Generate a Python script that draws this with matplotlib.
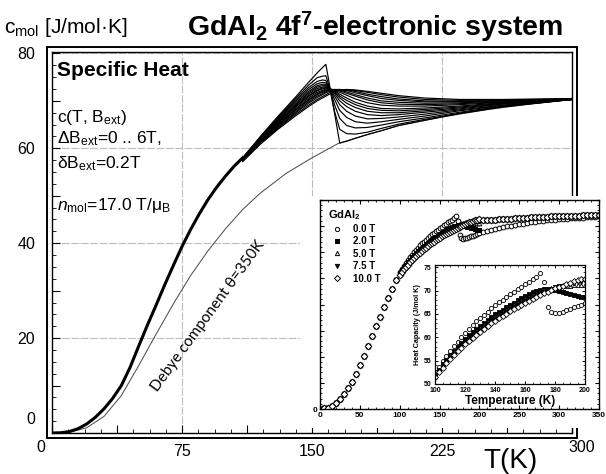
import numpy as np
import matplotlib
matplotlib.use("Agg")
import matplotlib.pyplot as plt
from matplotlib.ticker import MultipleLocator, FuncFormatter
from matplotlib.patches import Rectangle

plt.rcParams['font.family'] = ['Liberation Sans', 'DejaVu Sans']
plt.rcParams['mathtext.fontset'] = 'custom'
plt.rcParams['mathtext.rm'] = 'Liberation Sans'
plt.rcParams['mathtext.it'] = 'Liberation Sans:italic'
plt.rcParams['mathtext.bf'] = 'Liberation Sans:bold'

# ---------- main panel: calculated c(T, B_ext) ----------
T_deb = [0, 10, 20, 30, 40, 50, 60, 70, 80, 90, 100, 110, 120, 135, 150, 165,
         180, 200, 225, 250, 275, 300]
c_deb = [0, 0.15, 1.1, 3.5, 7.9, 14.2, 20.8, 27.2, 33.2, 38.4, 43.0, 47.1,
         50.5, 54.7, 58.0, 61.0, 62.7, 64.8, 66.6, 68.1, 69.3, 70.3]

# low-T part, all field curves lie on top of each other
T_low = [0, 5, 10, 15, 20, 25, 30, 35, 40, 45, 50, 55, 60, 65, 70, 75, 80,
         85, 90, 95, 100, 105, 110]
c_low = [0, 0.05, 0.3, 0.9, 1.9, 3.3, 5.1, 7.3, 10.0, 13.8, 18.3, 22.7, 26.9,
         31.2, 35.3, 39.3, 42.9, 46.2, 49.2, 51.8, 54.1, 56.2, 58.0]

# around the transition, one row per field value
T_hi = [110, 120, 130, 140, 148, 153, 156, 158, 160, 163, 166, 170, 175, 182,
        190, 200, 215, 235, 260, 300]
fields = [0.0, 0.2, 0.4, 0.6, 0.8, 1.0, 1.2, 1.4, 1.6, 2.0, 2.4, 2.8, 3.4,
          4.0, 5.0, 6.0]
c_field = [
    [58.0, 62.4, 66.6, 70.6, 73.9, 75.9, 77.0, 77.7, 73.6, 67.4, 61.1, 61.5, 62.1, 62.9, 63.7, 64.8, 65.9, 67.3, 68.7, 70.3],
    [58.0, 62.3, 66.4, 70.3, 73.3, 74.9, 75.2, 75.3, 73.0, 67.8, 64.0, 63.1, 63.0, 63.4, 64.2, 65.1, 66.1, 67.4, 68.8, 70.3],
    [57.9, 62.2, 66.2, 70.0, 72.8, 74.1, 74.4, 74.3, 72.8, 69.2, 66.3, 64.8, 64.3, 64.4, 64.9, 65.6, 66.4, 67.6, 68.9, 70.3],
    [57.9, 62.1, 66.0, 69.7, 72.4, 73.6, 73.9, 73.8, 72.8, 70.3, 68.0, 66.5, 65.6, 65.3, 65.6, 66.1, 66.8, 67.9, 69.0, 70.3],
    [57.8, 62.0, 65.8, 69.4, 72.0, 73.2, 73.5, 73.5, 72.8, 71.0, 69.2, 67.8, 66.8, 66.2, 66.3, 66.6, 67.2, 68.1, 69.1, 70.3],
    [57.8, 61.9, 65.6, 69.1, 71.7, 72.9, 73.2, 73.2, 72.8, 71.5, 70.0, 68.8, 67.8, 67.1, 66.9, 67.1, 67.6, 68.3, 69.3, 70.3],
    [57.7, 61.8, 65.4, 68.9, 71.4, 72.6, 72.9, 73.0, 72.7, 71.8, 70.6, 69.5, 68.6, 67.8, 67.5, 67.5, 67.9, 68.5, 69.4, 70.3],
    [57.7, 61.7, 65.3, 68.7, 71.1, 72.3, 72.7, 72.8, 72.6, 72.0, 71.0, 70.1, 69.2, 68.4, 68.0, 67.9, 68.2, 68.7, 69.5, 70.3],
    [57.6, 61.6, 65.2, 68.5, 70.9, 72.1, 72.5, 72.7, 72.6, 72.1, 71.4, 70.6, 69.7, 68.9, 68.4, 68.3, 68.5, 68.9, 69.6, 70.3],
    [57.6, 61.5, 65.0, 68.2, 70.6, 71.8, 72.2, 72.5, 72.5, 72.3, 71.8, 71.2, 70.4, 69.6, 69.1, 68.9, 68.9, 69.2, 69.7, 70.3],
    [57.5, 61.4, 64.8, 68.0, 70.3, 71.5, 72.0, 72.3, 72.4, 72.4, 72.1, 71.6, 71.0, 70.2, 69.6, 69.3, 69.2, 69.4, 69.8, 70.3],
    [57.5, 61.3, 64.7, 67.8, 70.1, 71.3, 71.8, 72.1, 72.3, 72.4, 72.2, 71.9, 71.3, 70.6, 70.0, 69.7, 69.5, 69.6, 69.9, 70.3],
    [57.4, 61.2, 64.5, 67.5, 69.8, 71.0, 71.5, 71.9, 72.2, 72.4, 72.4, 72.2, 71.7, 71.1, 70.5, 70.1, 69.8, 69.8, 70.0, 70.4],
    [57.4, 61.1, 64.3, 67.3, 69.5, 70.7, 71.3, 71.7, 72.0, 72.3, 72.4, 72.3, 72.0, 71.4, 70.9, 70.4, 70.0, 69.9, 70.1, 70.4],
    [57.3, 60.9, 64.1, 67.0, 69.1, 70.3, 70.9, 71.3, 71.7, 72.1, 72.3, 72.4, 72.2, 71.8, 71.3, 70.8, 70.3, 70.1, 70.2, 70.4],
    [57.2, 60.8, 63.9, 66.7, 68.8, 70.0, 70.6, 71.0, 71.4, 71.9, 72.2, 72.4, 72.3, 72.0, 71.6, 71.1, 70.6, 70.3, 70.3, 70.5],
]

# ---------- inset: measured GdAl2 ----------
T_exp_low = [0, 5, 10, 15, 20, 25, 30, 35, 40, 45, 50, 55, 60, 65, 70, 75,
             80, 85, 90, 95]
cp_exp_low = [0.05, 0.2, 0.5, 1.1, 2.2, 3.7, 5.6, 7.9, 10.5, 13.5, 16.8, 20.3,
              24.0, 27.8, 31.6, 35.3, 39.0, 42.5, 46.0, 49.5]

T_mid = [100 + 2.5 * i for i in range(41)]
cp_0T = [52.5, 53.7, 54.9, 56.0, 57.1, 58.1, 59.1, 60.0, 60.9, 61.8, 62.6,
         63.4, 64.1, 64.8, 65.5, 66.2, 66.9, 67.5, 68.1, 68.7, 69.2, 69.8,
         70.3, 70.8, 71.4, 71.9, 72.5, 73.0, 73.8, 71.8, 66.6, 65.4, 65.2,
         65.3, 65.5, 65.8, 66.1, 66.4, 66.7, 67.0, 67.3]
cp_2T = [52.0, 53.1, 54.2, 55.2, 56.2, 57.1, 58.0, 58.8, 59.6, 60.4, 61.1,
         61.8, 62.5, 63.1, 63.7, 64.3, 64.9, 65.4, 65.9, 66.4, 66.9, 67.4,
         67.9, 68.4, 68.9, 69.3, 69.7, 70.0, 70.2, 70.3, 70.3, 70.2, 70.1,
         69.9, 69.7, 69.5, 69.3, 69.1, 68.9, 68.7, 68.6]
cp_5T = [51.8, 52.9, 53.9, 54.9, 55.9, 56.8, 57.6, 58.4, 59.2, 59.9, 60.6,
         61.3, 62.0, 62.6, 63.2, 63.8, 64.4, 64.9, 65.4, 65.9, 66.4, 66.9,
         67.4, 67.8, 68.3, 68.7, 69.1, 69.5, 69.8, 70.1, 70.4, 70.6, 70.8,
         70.9, 71.0, 71.1, 71.1, 71.2, 71.2, 71.2, 71.2]
cp_75T = [51.6, 52.7, 53.7, 54.7, 55.6, 56.5, 57.3, 58.1, 58.9, 59.6, 60.3,
          61.0, 61.6, 62.2, 62.8, 63.4, 64.0, 64.5, 65.0, 65.5, 66.0, 66.5,
          66.9, 67.4, 67.8, 68.2, 68.6, 69.0, 69.4, 69.8, 70.1, 70.4, 70.7,
          70.9, 71.1, 71.3, 71.5, 71.6, 71.8, 71.9, 72.0]
cp_10T = [51.4, 52.5, 53.5, 54.4, 55.3, 56.2, 57.0, 57.8, 58.5, 59.2, 59.9,
          60.6, 61.2, 61.8, 62.4, 63.0, 63.6, 64.1, 64.6, 65.1, 65.6, 66.1,
          66.5, 67.0, 67.4, 67.8, 68.2, 68.6, 69.0, 69.4, 69.8, 70.2, 70.5,
          70.8, 71.1, 71.4, 71.7, 72.0, 72.2, 72.4, 72.6]

T_exp_high = [205 + 5 * i for i in range(30)]
cp_high_0T = [67.7, 68.1, 68.5, 68.9, 69.3, 69.6, 69.9, 70.2, 70.5, 70.8,
              71.0, 71.2, 71.4, 71.6, 71.8, 72.0, 72.2, 72.3, 72.5, 72.6,
              72.8, 72.9, 73.0, 73.1, 73.2, 73.3, 73.4, 73.5, 73.6, 73.7]
cp_high_B = [72.2, 72.3, 72.4, 72.5, 72.6, 72.7, 72.8, 72.9, 73.0, 73.1,
             73.2, 73.3, 73.4, 73.4, 73.5, 73.6, 73.6, 73.7, 73.7, 73.8,
             73.8, 73.9, 73.9, 74.0, 74.0, 74.1, 74.1, 74.2, 74.2, 74.3]

exp_labels = ["0.0 T", "2.0 T", "5.0 T", "7.5 T", "10.0 T"]
exp_mid = [cp_0T, cp_2T, cp_5T, cp_75T, cp_10T]
exp_markers = ["o", "s", "^", "v", "D"]
exp_filled = [False, True, False, True, False]

W, H = 606, 474


def px_box(l, t, r, b):
    return [l / W, 1 - b / H, (r - l) / W, (b - t) / H]


fig = plt.figure(figsize=(W / 100, H / 100), dpi=100)
ax = fig.add_axes(px_box(52, 52, 572, 433))

grid_kw = dict(color="#bdbdbd", lw=0.8, ls=(0, (7, 1.5)), zorder=0)
for gx in (75, 150, 225):
    ax.axvline(gx, **grid_kw)
for gy in (20, 40, 60, 80):
    ax.axhline(gy, **grid_kw)

ax.plot(T_deb, c_deb, color="#505050", lw=0.75, zorder=2)
ax.plot(T_low, c_low, color="black", lw=2.2, zorder=3)
for row in c_field:
    ax.plot(T_hi, row, color="black", lw=0.85, zorder=3)

ax.set_xlim(0, 300)
ax.set_ylim(0, 80.3)
ax.xaxis.set_major_locator(MultipleLocator(37.5))
ax.xaxis.set_minor_locator(MultipleLocator(9.375))
ax.xaxis.set_major_formatter(FuncFormatter(
    lambda v, p: f"{v:.0f}" if (abs(v % 75) < 1e-6 and 0 < v < 300) else ""))
ax.yaxis.set_major_locator(MultipleLocator(10))
ax.yaxis.set_minor_locator(MultipleLocator(2.5))
ax.yaxis.set_major_formatter(FuncFormatter(
    lambda v, p: f"{v:.0f}" if (abs(v % 20) < 1e-6 and v > 0) else ""))
ax.tick_params(which="both", direction="in", top=False, right=False,
               labelsize=11.5)
ax.tick_params(which="major", length=6, width=0.8)
ax.tick_params(which="minor", length=3, width=0.6)
ax.tick_params(axis="x", pad=8)
ax.tick_params(axis="y", pad=12)
for s in ax.spines.values():
    s.set_linewidth(1.0)

# outer line of the double frame
fig.add_artist(Rectangle((47 / W, 1 - 438 / H), 530 / W, 391 / H,
                         transform=fig.transFigure, fill=False, lw=1.4,
                         color="black", zorder=1))

fig.text(41 / W, 1 - 447 / H, "0", fontsize=11.5, ha="center", va="center")
fig.text(582 / W, 1 - 447 / H, "300", fontsize=11.5, ha="center", va="center")
fig.text(35 / W, 1 - 420 / H, "0", fontsize=11.5, ha="right", va="center")
fig.text(511 / W, 1 - 461 / H, "T(K)", fontsize=20, ha="center", va="center")

fig.text(4 / W, 1 - 33 / H, r"c$_{\rm mol}$ [J/mol·K]", fontsize=15,
         ha="left", va="baseline")
fig.text(375 / W, 1 - 36 / H,
         r"GdAl$_\mathbf{2}$ 4f$^\mathbf{7}$-electronic system",
         fontsize=20.5, fontweight="bold", ha="center", va="baseline")

txt_kw = dict(fontsize=12.5, ha="left", va="baseline")
fig.text(57 / W, 1 - 76 / H, "Specific Heat", fontsize=15,
         fontweight="bold", ha="left", va="baseline")
fig.text(57 / W, 1 - 122 / H, r"c(T, B$_{\rm ext}$)", **txt_kw)
fig.text(57 / W, 1 - 143 / H, r"ΔB$_{\rm ext}$=0 .. 6T,", **txt_kw)
fig.text(57 / W, 1 - 168 / H, r"δB$_{\rm ext}$=0.2T", **txt_kw)
fig.text(57 / W, 1 - 210 / H, r"$n$$_{\rm mol}$=17.0 T/μ$_{\rm B}$",
         **txt_kw)
fig.text(208 / W, 1 - 316 / H, "Debye component θ=350K", fontsize=11,
         family=["Lato", "DejaVu Sans"], rotation=54, ha="center",
         va="center")

# ---------- inset ----------
fig.add_artist(Rectangle((300 / W, 1 - 428 / H), 306 / W, 232 / H,
                         transform=fig.transFigure, color="white", lw=0,
                         zorder=1.5))
ax2 = fig.add_axes(px_box(320, 200, 599, 409), zorder=2)
T_exp_all = T_exp_low + T_mid + T_exp_high
for i, (lab, mid, mk, filled) in enumerate(zip(exp_labels, exp_mid,
                                                exp_markers, exp_filled)):
    if i == 0:
        ts, vs = T_exp_all, cp_exp_low + mid + cp_high_0T
    elif i == 1:
        ts, vs = T_exp_low + T_mid, cp_exp_low + mid
    else:
        ts, vs = T_exp_all, cp_exp_low + mid + cp_high_B
    ax2.plot(ts, vs, ls="none", marker=mk, ms=3.4, mew=0.7, color="black",
             mfc="black" if filled else "white", label=lab)
ax2.set_xlim(0, 350)
ax2.set_ylim(0, 80)
ax2.xaxis.set_major_locator(MultipleLocator(50))
ax2.xaxis.set_minor_locator(MultipleLocator(10))
ax2.yaxis.set_major_locator(MultipleLocator(10))
ax2.yaxis.set_minor_locator(MultipleLocator(2))
ax2.yaxis.set_major_formatter(FuncFormatter(
    lambda v, p: "0" if v == 0 else ""))
ax2.tick_params(which="both", direction="in", top=True, right=True,
                labelsize=6, pad=2)
ax2.tick_params(which="major", length=3, width=0.8)
ax2.tick_params(which="minor", length=1.5, width=0.6)
for lbl in ax2.get_xticklabels() + ax2.get_yticklabels():
    lbl.set_fontweight("bold")
for s in ax2.spines.values():
    s.set_linewidth(1.0)
leg = ax2.legend(loc="upper left", bbox_to_anchor=(0.0, 1.0), frameon=False,
                 title=r"GdAl$_\mathbf{2}$", handletextpad=0.6,
                 labelspacing=0.25, borderpad=0.3, markerscale=0.9,
                 prop={"size": 7, "weight": "bold"},
                 title_fontproperties={"size": 8, "weight": "bold"})
leg._legend_box.align = "left"

ax3 = fig.add_axes(px_box(435, 265, 585, 384), zorder=3)
for lab, mid, mk, filled in zip(exp_labels, exp_mid, exp_markers,
                                exp_filled):
    ax3.plot(T_mid, mid, ls="none", marker=mk, ms=3.0, mew=0.6,
             color="black", mfc="black" if filled else "white")
ax3.set_xlim(100, 200)
ax3.set_ylim(50, 75.5)
ax3.xaxis.set_major_locator(MultipleLocator(20))
ax3.xaxis.set_minor_locator(MultipleLocator(5))
ax3.yaxis.set_major_locator(MultipleLocator(5))
ax3.yaxis.set_minor_locator(MultipleLocator(1))
ax3.tick_params(which="both", direction="in", top=True, right=True,
                labelsize=5)
ax3.tick_params(axis="x", pad=2.5)
ax3.tick_params(axis="y", pad=2.5)
ax3.tick_params(which="major", length=2.5, width=0.7)
ax3.tick_params(which="minor", length=1.2, width=0.5)
for lbl in ax3.get_xticklabels() + ax3.get_yticklabels():
    lbl.set_fontweight("bold")
ax3.set_xlabel("Temperature (K)", fontsize=8.5, fontweight="bold",
               labelpad=0.5)
ax3.set_ylabel("Heat Capacity (J/mol K)", fontsize=5.2, fontweight="bold",
               labelpad=2)
for s in ax3.spines.values():
    s.set_linewidth(0.9)

fig.savefig("out.png", dpi=100)
